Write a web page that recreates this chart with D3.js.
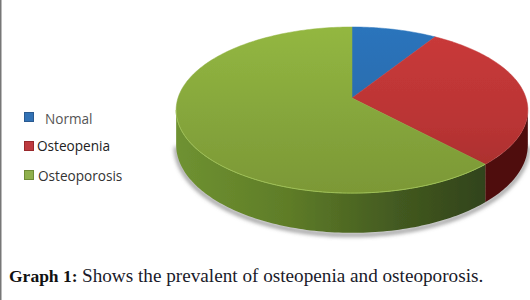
<!DOCTYPE html>
<html>
<head>
<meta charset="utf-8">
<script src="https://cdn.jsdelivr.net/npm/d3@7"></script>
<style>
  html, body { margin: 0; padding: 0; background: #fff; }
  svg { display: block; }
</style>
</head>
<body>
<svg id="chart" width="530" height="300"></svg>
<script>
var categories = ["Normal", "Osteopenia", "Osteoporosis"]
var values = [9, 29, 62]
var caption = "Shows the prevalent of osteopenia and osteoporosis."
var captionLead = "Graph 1:"

var width = 530, height = 300
var svg = d3.select("#chart")
var defs = svg.append("defs")

// apex of the pie, and the perspective of the tilted disc
var cx = 352, cy = 98
var persp = 0.145, rx = 174, ry = 81.3, depth = 34

function project(a, drop) {
  var u = Math.sin(a), v = -Math.cos(a)
  var w = 1 - persp * v
  return [cx + rx * u / w, cy + ry * v / w + (drop ? depth / w : 0)]
}

function arcPoints(a0, a1, drop) {
  var n = Math.max(2, Math.ceil((a1 - a0) / 0.02))
  return d3.range(n + 1).map(function (i) {
    return project(a0 + (a1 - a0) * i / n, drop)
  })
}

var line = d3.line()

function gradient(id, stops, x1, y1, x2, y2) {
  var g = defs.append("linearGradient")
    .attr("id", id)
    .attr("gradientUnits", "userSpaceOnUse")
    .attr("x1", x1).attr("y1", y1).attr("x2", x2).attr("y2", y2)
  stops.forEach(function (s) {
    g.append("stop").attr("offset", s[0]).attr("stop-color", s[1])
  })
}

var topStops = [
  [[0, "#2a74bc"], [1, "#2f649f"]],
  [[0, "#ca3a3a"], [0.6, "#b93434"], [1, "#a32c2a"]],
  [[0, "#93b741"], [0.6, "#84a43b"], [1, "#7c9836"]]
]
var sideStops = [
  [[0, "#1f4a7a"], [1, "#1f4a7a"]],
  [[0, "#340a0a"], [0.5, "#420d0d"], [1, "#4f1111"]],
  [[0, "#6f9231"], [0.35, "#5f7d28"], [0.7, "#435a20"], [1, "#30421a"]]
]
categories.forEach(function (c, i) {
  gradient("top" + i, topStops[i], 0, 27, 0, 193)
  gradient("side" + i, sideStops[i], 175, 0, 490, 0)
})

defs.append("filter").attr("id", "shadow")
  .attr("x", "-5%").attr("y", "-5%").attr("width", "110%").attr("height", "115%")
  .append("feGaussianBlur").attr("stdDeviation", 2)
defs.append("filter").attr("id", "soft")
  .append("feGaussianBlur").attr("stdDeviation", 0.5)

var pie = d3.pie().sort(null)
var slices = pie(values)

// rim is on the silhouette where the disc is at its widest
var sideStart = Math.acos(-persp), sideEnd = 2 * Math.PI - sideStart

var pieG = svg.append("g").attr("filter", "url(#soft)")

// soft shadow under the front of the disc
pieG.append("path")
  .attr("d", line(arcPoints(sideStart, sideEnd, true).map(function (p) {
    return [p[0], p[1] + 2]
  })))
  .attr("fill", "none")
  .attr("stroke", "#777")
  .attr("stroke-width", 3)
  .attr("filter", "url(#shadow)")

slices.forEach(function (d, i) {
  var a0 = Math.max(d.startAngle, sideStart), a1 = Math.min(d.endAngle, sideEnd)
  if (a1 <= a0) return
  var pts = arcPoints(a0, a1, false).concat(arcPoints(a0, a1, true).reverse())
  pieG.append("path")
    .attr("d", line(pts) + "Z")
    .attr("fill", "url(#side" + i + ")")
})

slices.forEach(function (d, i) {
  var pts = [[cx, cy]].concat(arcPoints(d.startAngle, d.endAngle, false))
  pieG.append("path")
    .attr("d", line(pts) + "Z")
    .attr("fill", "url(#top" + i + ")")
    .attr("stroke", "url(#top" + i + ")")
    .attr("stroke-width", 0.5)
})

// lighter edge along the green rim
pieG.append("path")
  .attr("d", line(arcPoints(slices[2].startAngle, sideEnd, false)))
  .attr("fill", "none")
  .attr("stroke", "#9dbf55")
  .attr("stroke-width", 1)

// legend
var legendY = d3.scalePoint().domain(categories).range([118, 176])
var legendTextX = [45, 37, 38]
var legendTextDy = [6, 4, 5]
var swatchColors = ["#3272b5", "#bd3a3f", "#8fb04c"]
var swatchEdges = ["#2a5a90", "#98282c", "#6f8c35"]
var legendColors = ["#555", "#222", "#333"]

var legend = svg.selectAll("g.legend")
  .data(categories)
  .enter()
  .append("g")
  .attr("class", "legend")

legend.append("rect")
  .attr("x", 24.5)
  .attr("y", function (d) { return legendY(d) - 5.5 })
  .attr("width", 9)
  .attr("height", 9)
  .attr("fill", function (d, i) { return swatchColors[i] })
  .attr("stroke", function (d, i) { return swatchEdges[i] })

legend.append("text")
  .attr("x", function (d, i) { return legendTextX[i] })
  .attr("y", function (d, i) { return legendY(d) + legendTextDy[i] })
  .attr("font-family", "'Open Sans', sans-serif")
  .attr("font-size", 13.6)
  .attr("fill", function (d, i) { return legendColors[i] })
  .text(function (d) { return d })

// caption
svg.append("text")
  .attr("x", 9)
  .attr("y", 282)
  .attr("font-family", "'Liberation Serif', serif")
  .attr("font-size", 17.5)
  .attr("font-weight", "bold")
  .attr("fill", "#111")
  .text(captionLead)

svg.append("text")
  .attr("x", 82)
  .attr("y", 282)
  .attr("font-family", "'Liberation Serif', serif")
  .attr("font-size", 19.2)
  .attr("fill", "#1a1a2a")
  .text(caption)

// left page rule
svg.append("line")
  .attr("x1", 0.5).attr("x2", 0.5)
  .attr("y1", 0).attr("y2", height)
  .attr("stroke", "#777")
  .attr("stroke-width", 2)
</script>
</body>
</html>
